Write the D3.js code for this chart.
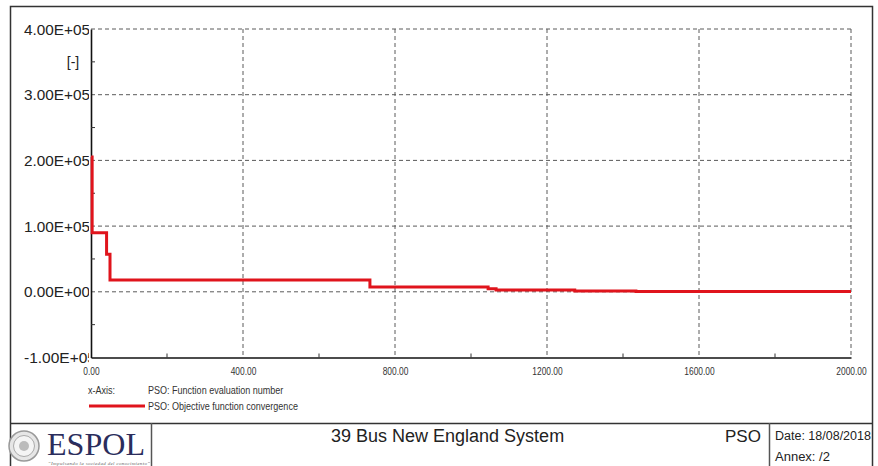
<!DOCTYPE html>
<html>
<head>
<meta charset="utf-8">
<script src="https://cdn.jsdelivr.net/npm/d3@7"></script>
<style>
  body { margin: 0; background: #fff; }
  svg { display: block; }
</style>
</head>
<body>
<script>
// convergence data (step curve)
var evals = [0, 3, 41, 50, 734, 1045, 1066, 1273, 1434, 2000];
var values = [205000, 90000, 57000, 18000, 7300, 4500, 2600, 1200, 300, 300];

// axis ticks
var xTicks = [0, 400, 800, 1200, 1600, 2000];
var xMinor = [200, 600, 1000, 1400, 1800];
var yTicks = [400000, 300000, 200000, 100000, 0, -100000];
var yTickLabels = ["4.00E+05", "3.00E+05", "2.00E+05", "1.00E+05", "0.00E+00", "-1.00E+05"];
var yMinor = [350000, 250000, 150000, 50000, -50000];

var W = 878, H = 466;
var sans = "'Liberation Sans', Arial, sans-serif";

// squeeze text horizontally (narrow font look)
function condense(sel, f) {
  sel.each(function() {
    var w = this.getComputedTextLength();
    d3.select(this).attr("textLength", w * f).attr("lengthAdjust", "spacingAndGlyphs");
  });
}

var svg = d3.select("body").append("svg")
    .attr("width", W)
    .attr("height", H);

// plot scales
var x = d3.scaleLinear().domain([0, 2000]).range([91, 851]);
var y = d3.scaleLinear().domain([-100000, 400000]).range([357.5, 29]);

// outer frame
svg.append("rect")
    .attr("x", 10.5).attr("y", 6.5)
    .attr("width", 862).attr("height", 480)
    .attr("fill", "none")
    .attr("stroke", "#333")
    .attr("stroke-width", 1.5);

// gridlines
svg.append("g").selectAll("line")
    .data(yTicks.slice(0, 5))
    .enter().append("line")
    .attr("x1", x(0)).attr("x2", x(2000))
    .attr("y1", function(d) { return y(d); })
    .attr("y2", function(d) { return y(d); })
    .attr("stroke", "#5a5a5a")
    .attr("stroke-dasharray", "4,3");

svg.append("g").selectAll("line")
    .data(xTicks.slice(1))
    .enter().append("line")
    .attr("x1", function(d) { return x(d); })
    .attr("x2", function(d) { return x(d); })
    .attr("y1", y(400000)).attr("y2", y(-100000))
    .attr("stroke", "#5a5a5a")
    .attr("stroke-dasharray", "4,3");

// axes
var xAxis = d3.axisBottom(x).tickValues(xTicks).tickSize(0).tickPadding(10)
    .tickFormat(function(d) { return d3.format(".2f")(d); });
svg.append("g")
    .attr("transform", "translate(0," + y(-100000) + ")")
    .call(xAxis)
    .call(function(g) {
      g.select(".domain").attr("stroke", "#111").attr("stroke-width", 1.6);
      g.selectAll("text").attr("font-family", sans).attr("font-size", 10.5).attr("fill", "#333")
        .call(condense, 0.8);
    });

svg.append("g").selectAll("line")
    .data(xMinor)
    .enter().append("line")
    .attr("x1", function(d) { return x(d); })
    .attr("x2", function(d) { return x(d); })
    .attr("y1", y(-100000)).attr("y2", y(-100000) - 4)
    .attr("stroke", "#333");

var yAxis = d3.axisLeft(y).tickValues([]).tickSize(0);
svg.append("g")
    .attr("transform", "translate(" + x(0) + ",0)")
    .call(yAxis)
    .call(function(g) {
      g.select(".domain").attr("stroke", "#111").attr("stroke-width", 1.6);
    });

svg.append("g").selectAll("line")
    .data(yMinor)
    .enter().append("line")
    .attr("x1", x(0)).attr("x2", x(0) + 4)
    .attr("y1", function(d) { return y(d); })
    .attr("y2", function(d) { return y(d); })
    .attr("stroke", "#333");

// y tick labels, left aligned and clipped at the axis
svg.append("clipPath").attr("id", "yclip")
    .append("rect").attr("x", 0).attr("y", 0).attr("width", 89).attr("height", 400);

svg.append("g")
    .attr("clip-path", "url(#yclip)")
    .selectAll("text")
    .data(yTicks)
    .enter().append("text")
    .attr("x", 24)
    .attr("y", function(d) { return y(d); })
    .attr("dy", "0.36em")
    .attr("font-family", sans)
    .attr("font-size", 15.5)
    .attr("textLength", function(d, i) { return i == 5 ? 72 : 66; })
    .attr("lengthAdjust", "spacingAndGlyphs")
    .attr("fill", "#222")
    .text(function(d, i) { return yTickLabels[i]; });

svg.append("text")
    .attr("x", 73).attr("y", y(350000))
    .attr("dy", "0.36em")
    .attr("text-anchor", "middle")
    .attr("font-family", sans)
    .attr("font-size", 14)
    .attr("fill", "#222")
    .text("[-]");

// convergence line
var line = d3.line()
    .x(function(d) { return x(d[0]); })
    .y(function(d) { return y(d[1]); })
    .curve(d3.curveStepAfter);

svg.append("path")
    .datum(evals.map(function(d, i) { return [d, values[i]]; }))
    .attr("d", line)
    .attr("fill", "none")
    .attr("stroke", "#e0141c")
    .attr("stroke-width", 3);

// legend
var legendText = [
  {x: 88, y: 394, t: "x-Axis:"},
  {x: 148, y: 394, t: "PSO: Function evaluation number"},
  {x: 148, y: 410, t: "PSO: Objective function convergence"}
];
svg.append("g").selectAll("text")
    .data(legendText)
    .enter().append("text")
    .attr("x", function(d) { return d.x; })
    .attr("y", function(d) { return d.y; })
    .attr("font-family", sans).attr("font-size", 11).attr("fill", "#333")
    .text(function(d) { return d.t; })
    .call(condense, 0.82);
svg.append("line")
    .attr("x1", 89).attr("x2", 145)
    .attr("y1", 406).attr("y2", 406)
    .attr("stroke", "#e0141c").attr("stroke-width", 3);

// title block
svg.append("line")
    .attr("x1", 10).attr("x2", 873).attr("y1", 423.5).attr("y2", 423.5)
    .attr("stroke", "#333").attr("stroke-width", 1.5);
svg.append("line")
    .attr("x1", 151.5).attr("x2", 151.5).attr("y1", 423).attr("y2", H)
    .attr("stroke", "#555").attr("stroke-width", 1.5);
svg.append("line")
    .attr("x1", 769.5).attr("x2", 769.5).attr("y1", 423).attr("y2", H)
    .attr("stroke", "#555").attr("stroke-width", 1.5);

// logo seal
var seal = svg.append("g").attr("transform", "translate(24,446)");
seal.append("circle").attr("r", 15).attr("fill", "#e6e6e6").attr("stroke", "#999").attr("stroke-width", 1.5);
seal.append("circle").attr("r", 10.5).attr("fill", "#f4f4f4").attr("stroke", "#aaa").attr("stroke-width", 1);
seal.append("circle").attr("r", 5).attr("fill", "#bbb");

svg.append("text")
    .attr("x", 47).attr("y", 455)
    .attr("font-family", "'Liberation Serif', 'Times New Roman', serif")
    .attr("font-size", 31)
    .attr("textLength", 98)
    .attr("lengthAdjust", "spacingAndGlyphs")
    .attr("fill", "#2b2d5c")
    .text("ESPOL");
svg.append("text")
    .attr("x", 48).attr("y", 465)
    .attr("font-family", "'Liberation Serif', serif")
    .attr("font-style", "italic")
    .attr("font-size", 5)
    .attr("textLength", 102)
    .attr("fill", "#666")
    .text("\u201CImpulsando la sociedad del conocimiento\u201D");

svg.append("text")
    .attr("x", 331).attr("y", 442)
    .attr("font-family", sans).attr("font-size", 18).attr("fill", "#222")
    .text("39 Bus New England System");
svg.append("text")
    .attr("x", 725).attr("y", 442)
    .attr("font-family", sans).attr("font-size", 17).attr("fill", "#222")
    .text("PSO");
svg.append("text")
    .attr("x", 775).attr("y", 440)
    .attr("font-family", sans).attr("font-size", 12.5).attr("fill", "#222")
    .text("Date: 18/08/2018");
svg.append("text")
    .attr("x", 775).attr("y", 461)
    .attr("font-family", sans).attr("font-size", 13).attr("fill", "#222")
    .text("Annex:  /2");
</script>
</body>
</html>
